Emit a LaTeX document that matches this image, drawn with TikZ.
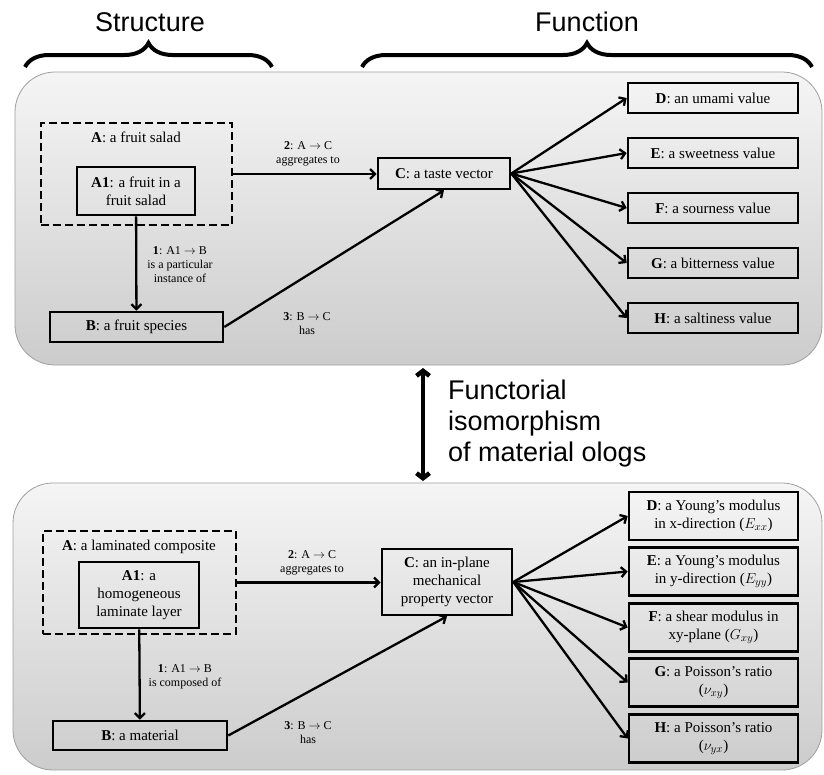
\documentclass[tikz,border=0pt]{standalone}
\usepackage{fontspec}
\setmainfont{Liberation Serif}
\newfontfamily\titlefont{Liberation Sans}
\usetikzlibrary{arrows.meta,decorations.pathreplacing}

\tikzset{
  olog/.style={draw,line width=2.6pt,align=center,inner sep=0pt,font=\fontsize{15}{18}\selectfont},
  ologset/.style={draw,dash pattern=on 8pt off 4pt,line width=2.6pt,inner sep=0pt},
  ologtext/.style={align=center,inner sep=0pt,font=\fontsize{15}{18}\selectfont},
  ologlabel/.style={align=center,inner sep=0pt,font=\fontsize{12}{14}\selectfont},
  heading/.style={inner sep=0pt,font=\titlefont\fontsize{27}{31}\selectfont},
  arr/.style={line width=2.3pt,-{Straight Barb[length=5pt,width=10pt]}},
  isoarr/.style={line width=4.5pt,{Straight Barb[length=5pt,width=13pt]}-{Straight Barb[length=5pt,width=13pt]}},
  panel/.style={draw=gray!75,line width=0.8pt,rounded corners=40pt,top color=gray!8,bottom color=gray!40},
  curly/.style={decorate,decoration={brace,amplitude=24pt},line width=4pt},
}

\begin{document}
\begin{tikzpicture}[x=1pt,y=-1pt]
        \useasboundingbox (0,0) rectangle (824,774);

        % headings and braces
        \node[heading] (structure) at (150,22) {Structure};
        \node[heading] (function)  at (587,22) {Function};
        \draw[curly] (25,67) -- (272,67);
        \draw[curly] (362,67) -- (812,67);

        % panels
        \path[panel] (15,72) rectangle (822,365);
        \path[panel] (13,483) rectangle (822,770);

        % fruit salad olog
        \node[ologset,minimum width=191pt,minimum height=102pt] (saladA) at (136.5,174) {};
        \node[ologtext] (saladAtxt) at (136,137) {\textbf{A}: a fruit salad};
        \node[olog,minimum width=118pt,minimum height=48pt] (saladA1) at (136,191) {\textbf{A1}: a fruit in a\\fruit salad};
        \node[olog,minimum width=173pt,minimum height=30pt] (saladB) at (136.5,327) {\textbf{B}: a fruit species};
        \node[olog,minimum width=132pt,minimum height=31pt] (saladC) at (444,173.5) {\textbf{C}: a taste vector};
        \node[olog,minimum width=170pt,minimum height=30pt] (saladD) at (713,98)  {\textbf{D}: an umami value};
        \node[olog,minimum width=170pt,minimum height=30pt] (saladE) at (713,153) {\textbf{E}: a sweetness value};
        \node[olog,minimum width=170pt,minimum height=30pt] (saladF) at (713,208) {\textbf{F}: a sourness value};
        \node[olog,minimum width=170pt,minimum height=30pt] (saladG) at (713,263) {\textbf{G}: a bitterness value};
        \node[olog,minimum width=170pt,minimum height=30pt] (saladH) at (713,318) {\textbf{H}: a saltiness value};
        \node[ologlabel] (salad1) at (180,265)   {\textbf{1}: A1 $\rightarrow$ B\\is a particular\\instance of};
        \node[ologlabel] (salad2) at (308,153.5) {\textbf{2}: A $\rightarrow$ C\\aggregates to};
        \node[ologlabel] (salad3) at (307,324)   {\textbf{3}: B $\rightarrow$ C\\has};

        \path [arr] (saladA1) edge (saladB);
        \path [arr] (saladA.east) edge (saladA.east -| saladC.west);
        \path [arr] (saladB.east) edge (saladC.south);
        \path [arr] (saladC.east) edge (saladD.west);
        \path [arr] (saladC.east) edge (saladE.west);
        \path [arr] (saladC.east) edge (saladF.west);
        \path [arr] (saladC.east) edge (saladG.west);
        \path [arr] (saladC.east) edge (saladH.west);

        % functorial isomorphism
        \coordinate (isoTop) at (423,368);
        \coordinate (isoBot) at (423,481);
        \draw[isoarr] (isoTop) -- (isoBot);
        \node[heading,anchor=west,align=left] (iso) at (448,424) {Functorial\\isomorphism\\of material ologs};

        % laminated composite olog
        \node[ologset,minimum width=193pt,minimum height=103pt] (lamA) at (139.5,582.5) {};
        \node[ologtext] (lamAtxt) at (139,547) {\textbf{A}: a laminated composite};
        \node[olog,minimum width=120pt,minimum height=66pt] (lamA1) at (139,595) {\textbf{A1}: a\\homogeneous\\laminate layer};
        \node[olog,minimum width=174pt,minimum height=29pt] (lamB) at (140,735.5) {\textbf{B}: a material};
        \node[olog,minimum width=130pt,minimum height=66pt] (lamC) at (447,582) {\textbf{C}: an in-plane\\mechanical\\property vector};
        \node[olog,minimum width=169pt,minimum height=48pt] (lamD) at (713.5,516)   {\textbf{D}: a Young's modulus\\in x-direction ($E_{xx}$)};
        \node[olog,minimum width=169pt,minimum height=48pt] (lamE) at (713.5,571.5) {\textbf{E}: a Young's modulus\\in y-direction ($E_{yy}$)};
        \node[olog,minimum width=169pt,minimum height=48pt] (lamF) at (713.5,627.5) {\textbf{F}: a shear modulus in\\xy-plane ($G_{xy}$)};
        \node[olog,minimum width=169pt,minimum height=48pt] (lamG) at (713.5,682.5) {\textbf{G}: a Poisson's ratio\\($\nu_{xy}$)};
        \node[olog,minimum width=169pt,minimum height=48pt] (lamH) at (713.5,738.5) {\textbf{H}: a Poisson's ratio\\($\nu_{yx}$)};
        \node[ologlabel] (lam1) at (185,676.5) {\textbf{1}: A1 $\rightarrow$ B\\is composed of};
        \node[ologlabel] (lam2) at (312,562.5) {\textbf{2}: A $\rightarrow$ C\\aggregates to};
        \node[ologlabel] (lam3) at (308,732.5) {\textbf{3}: B $\rightarrow$ C\\has};

        \path [arr] (lamA1) edge (lamB);
        \path [arr] (lamA.east) edge (lamA.east -| lamC.west);
        \path [arr] (lamB.east) edge (lamC.south);
        \path [arr] (lamC.east) edge (lamD.west);
        \path [arr] (lamC.east) edge (lamE.west);
        \path [arr] (lamC.east) edge (lamF.west);
        \path [arr] (lamC.east) edge (lamG.west);
        \path [arr] (lamC.east) edge (lamH.west);
    \end{tikzpicture}
\end{document}
